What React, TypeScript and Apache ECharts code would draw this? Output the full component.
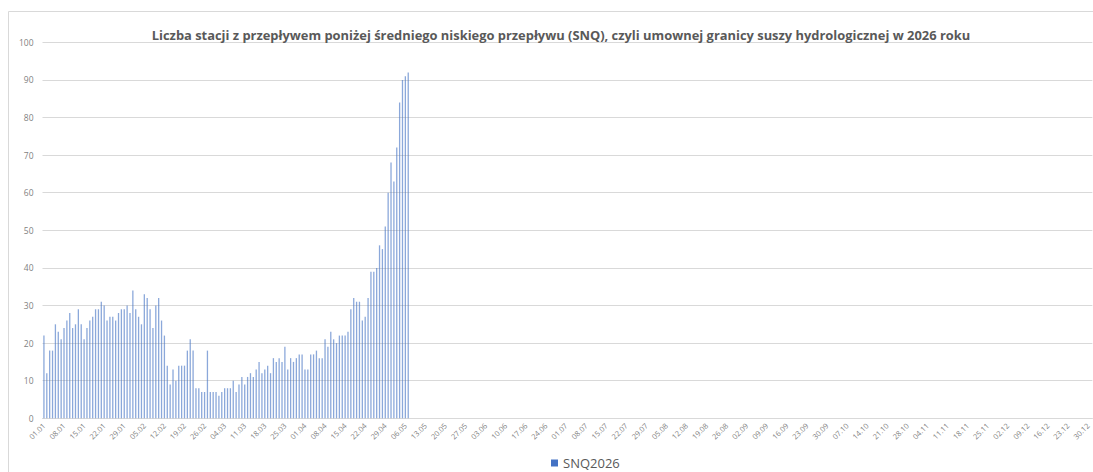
import React, { useEffect, useRef } from "react";
import * as echarts from "echarts";

const TITLE =
  "Liczba stacji z przepływem poniżej średniego niskiego przepływu (SNQ), czyli umownej granicy suszy hydrologicznej w 2026 roku";
const SERIES_NAME = "SNQ2026";
// The source workbook's date axis includes 29.02 (366 daily categories)
const MONTH_DAYS = [31, 29, 31, 30, 31, 30, 31, 31, 30, 31, 30, 31];

// Daily values from 01.01 onward (later days have no data yet)
const valuesJan = [22, 12, 18, 18, 25, 23, 21, 24, 26, 28, 24, 25, 29, 25, 21, 24, 26, 27, 29, 29, 31, 30, 26, 27, 27, 26, 28, 29, 29, 30, 28];
const valuesFeb = [34, 29, 27, 25, 33, 32, 29, 24, 30, 32, 26, 22, 14, 9, 13, 10, 14, 14, 14, 18, 21, 18, 8, 8, 7, 7, 18, 7, 7];
const valuesMar = [7, 6, 7, 8, 8, 8, 10, 7, 9, 11, 9, 11, 12, 11, 13, 15, 12, 13, 14, 12, 16, 15, 16, 15, 19, 13, 16, 15, 16, 17, 17];
const valuesApr = [13, 13, 17, 17, 18, 16, 16, 21, 19, 23, 21, 20, 22, 22, 22, 23, 29, 32, 31, 31, 26, 27, 32, 39, 39, 40, 46, 45, 51, 60];
const valuesMay = [68, 63, 72, 84, 90, 91, 92];

function buildCategories(): string[] {
  const out: string[] = [];
  MONTH_DAYS.forEach((n, m) => {
    for (let d = 1; d <= n; d++) {
      out.push(String(d).padStart(2, "0") + "." + String(m + 1).padStart(2, "0"));
    }
  });
  return out;
}

export default function App() {
  const ref = useRef<HTMLDivElement>(null);
  useEffect(() => {
    if (!ref.current) return;
    const chart = echarts.init(ref.current, undefined, { renderer: "svg" });
    const categories = buildCategories();
    const known = [...valuesJan, ...valuesFeb, ...valuesMar, ...valuesApr, ...valuesMay];
    const data = categories.map((_, i) => (i < known.length ? known[i] : null));
    const font = "'Open Sans', 'Noto Sans', sans-serif";
    chart.setOption({
      animation: false,
      backgroundColor: "#ffffff",
      textStyle: { fontFamily: font },
      title: {
        text: TITLE,
        left: 556,
        textAlign: "center",
        top: 23,
        textStyle: { fontSize: 12.9, fontWeight: "bold", color: "#595959", fontFamily: font },
      },
      graphic: [
        {
          type: "rect",
          shape: { x: 8.5, y: 11.5, width: 1200, height: 600 },
          style: { fill: "none", stroke: "#d9d9d9", lineWidth: 1 },
          silent: true,
        },
      ],
      legend: {
        left: 551,
        top: 456,
        padding: 0,
        icon: "rect",
        itemWidth: 7,
        itemHeight: 7,
        itemGap: 5,
        textStyle: { fontSize: 13, color: "#595959", fontFamily: font, lineHeight: 14 },
        data: [{ name: SERIES_NAME, itemStyle: { color: "#4472C4", opacity: 1 } }],
      },
      grid: { left: 42.5, width: 1051, top: 42.3, height: 376, containLabel: false },
      xAxis: {
        type: "category",
        data: categories,
        axisLine: { show: true, lineStyle: { color: "#d9d9d9", width: 1 } },
        axisTick: { show: false },
        axisLabel: {
          interval: 6,
          rotate: 45,
          fontSize: 7.5,
          color: "#7f7f7f",
          margin: 6,
          fontFamily: font,
        },
      },
      yAxis: {
        type: "value",
        min: 0,
        max: 100,
        interval: 10,
        axisLine: { show: false },
        axisTick: { show: false },
        splitLine: { lineStyle: { color: "#d9d9d9", width: 1 } },
        axisLabel: { fontSize: 8.5, color: "#7f7f7f", margin: 9, fontFamily: font },
      },
      series: [
        {
          name: SERIES_NAME,
          type: "bar",
          data,
          barWidth: 1.3,
          itemStyle: { color: "#4472C4", opacity: 0.62 },
        },
      ],
    });
    return () => chart.dispose();
  }, []);
  return (
    <div
      ref={ref}
      style={{ position: "absolute", left: 0, top: 0, width: 1093, height: 472 }}
    />
  );
}
